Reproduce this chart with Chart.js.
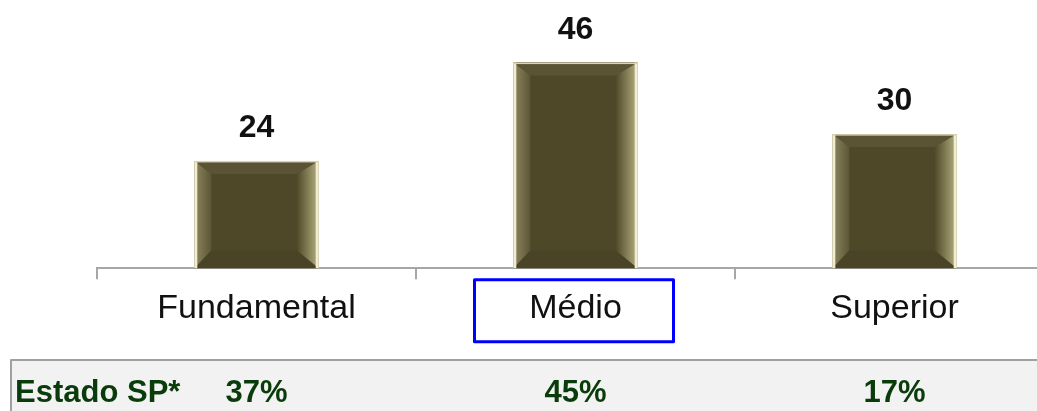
<!DOCTYPE html>
<html>
<head>
<meta charset="utf-8">
<script src="https://cdn.jsdelivr.net/npm/chart.js@4.4.0/dist/chart.umd.min.js"></script>
<style>
  html, body { margin: 0; padding: 0; background: #fff; }
  body { width: 1037px; height: 411px; overflow: hidden; position: relative; }
  #wrap { position: absolute; left: 0; top: 0; width: 1100px; height: 411px; }
</style>
</head>
<body>
<div id="wrap"><canvas id="escolaridade" width="1100" height="411"></canvas></div>
<script>
const categorias = ['Fundamental', 'Médio', 'Superior'];
const valores = [24, 46, 30];
const estadoLabel = 'Estado SP*';
const estadoSP = ['37%', '45%', '17%'];
const destaque = 1; // index of the boxed category

const FONT = '"Liberation Sans", Arial, sans-serif';

// bevelled frame on each bar
const bevelBars = {
    id: 'bevelBars',
    afterDatasetsDraw(chart) {
        const ctx = chart.ctx;
        chart.getDatasetMeta(0).data.forEach(bar => {
            const l = bar.x - bar.width / 2, r = bar.x + bar.width / 2;
            const t = bar.y, b = bar.base;
            const bl = 17, br = 22, bt = 13, bb = 18;
            ctx.save();
            // top
            ctx.fillStyle = '#5a5434';
            ctx.beginPath();
            ctx.moveTo(l, t); ctx.lineTo(r, t); ctx.lineTo(r - br, t + bt); ctx.lineTo(l + bl, t + bt); ctx.closePath();
            ctx.fill();
            // bottom
            ctx.fillStyle = '#4a4427';
            ctx.beginPath();
            ctx.moveTo(l, b); ctx.lineTo(r, b); ctx.lineTo(r - br, b - bb); ctx.lineTo(l + bl, b - bb); ctx.closePath();
            ctx.fill();
            // left
            let g = ctx.createLinearGradient(l, 0, l + bl, 0);
            g.addColorStop(0, '#8d875f');
            g.addColorStop(1, '#5c5636');
            ctx.fillStyle = g;
            ctx.beginPath();
            ctx.moveTo(l, t); ctx.lineTo(l + bl, t + bt); ctx.lineTo(l + bl, b - bb); ctx.lineTo(l, b); ctx.closePath();
            ctx.fill();
            // right
            g = ctx.createLinearGradient(r - br, 0, r, 0);
            g.addColorStop(0, '#4f4929');
            g.addColorStop(0.8, '#a19b70');
            g.addColorStop(1, '#b8b38a');
            ctx.fillStyle = g;
            ctx.beginPath();
            ctx.moveTo(r, t); ctx.lineTo(r - br, t + bt); ctx.lineTo(r - br, b - bb); ctx.lineTo(r, b); ctx.closePath();
            ctx.fill();
            // light rim
            ctx.fillStyle = '#f1edd2';
            ctx.fillRect(l, t, 3, b - t);
            ctx.fillRect(r - 3, t, 3, b - t);
            ctx.fillStyle = '#d9d4b4';
            ctx.fillRect(l, t, r - l, 1.5);
            ctx.restore();
        });
    }
};

// numbers above the bars
const valueLabels = {
    id: 'valueLabels',
    afterDatasetsDraw(chart) {
        const ctx = chart.ctx;
        ctx.save();
        ctx.font = 'bold 32px ' + FONT;
        ctx.fillStyle = '#111';
        ctx.textAlign = 'center';
        ctx.textBaseline = 'alphabetic';
        chart.getDatasetMeta(0).data.forEach((bar, i) => {
            ctx.fillText(String(valores[i]), bar.x, bar.y - 24);
        });
        ctx.restore();
    }
};

// blue box round the highlighted category, and the state comparison row
const extras = {
    id: 'extras',
    afterDraw(chart) {
        const ctx = chart.ctx;
        const xs = chart.scales.x;
        const bottom = chart.chartArea.bottom;
        ctx.save();
        const cx = xs.getPixelForValue(destaque);
        ctx.strokeStyle = '#0000ff';
        ctx.lineWidth = 3;
        ctx.lineJoin = 'round';
        ctx.strokeRect(cx - 101, bottom + 11.5, 199, 62);

        // comparison row
        const rowTop = 360;
        ctx.fillStyle = '#f2f2f2';
        ctx.fillRect(11, rowTop, chart.width - 11, chart.height - rowTop);
        ctx.strokeStyle = '#a0a0a0';
        ctx.lineWidth = 2;
        ctx.beginPath();
        ctx.moveTo(chart.width, rowTop);
        ctx.lineTo(11, rowTop);
        ctx.lineTo(11, chart.height);
        ctx.stroke();

        ctx.fillStyle = '#0a3b0a';
        ctx.font = 'bold 31px ' + FONT;
        ctx.textBaseline = 'alphabetic';
        ctx.textAlign = 'left';
        ctx.fillText(estadoLabel, 15, 402);
        ctx.textAlign = 'center';
        estadoSP.forEach((txt, i) => {
            ctx.fillText(txt, xs.getPixelForValue(i), 402);
        });
        ctx.restore();
    }
};

const ctx = document.getElementById('escolaridade').getContext('2d');
const chart = new Chart(ctx, {
    type: 'bar',
    data: {
        labels: categorias,
        datasets: [{
            data: valores,
            backgroundColor: '#4e4829',
            borderWidth: 0,
            barPercentage: 0.39,
            categoryPercentage: 1
        }]
    },
    options: {
        responsive: false,
        animation: false,
        layout: { padding: { left: 97, right: 46, top: 0, bottom: 73 } },
        plugins: {
            legend: { display: false },
            tooltip: { enabled: false }
        },
        scales: {
            x: {
                grid: {
                    offset: true,
                    drawOnChartArea: false,
                    drawTicks: true,
                    tickLength: 11,
                    color: '#a6a6a6',
                    lineWidth: 2
                },
                border: { display: true, color: '#a6a6a6', width: 2 },
                ticks: {
                    color: '#111',
                    padding: 9,
                    font: { family: FONT, size: 34 }
                }
            },
            y: {
                display: false,
                min: 0,
                max: 60
            }
        }
    },
    plugins: [bevelBars, valueLabels, extras]
});
</script>
</body>
</html>
